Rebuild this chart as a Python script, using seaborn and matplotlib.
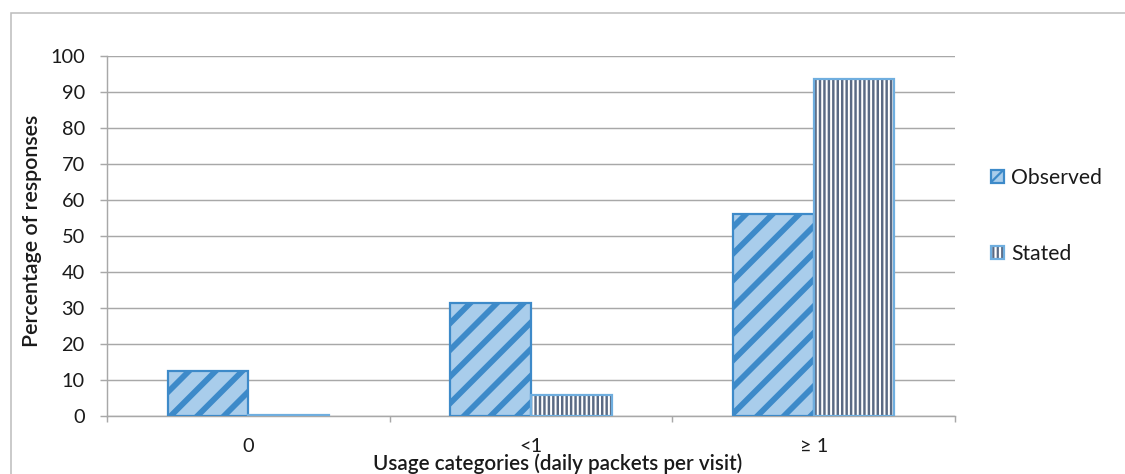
import matplotlib
matplotlib.use("Agg")
import matplotlib.pyplot as plt
import matplotlib.colors as mcolors
from matplotlib.patches import Rectangle
from matplotlib.ticker import FixedLocator, NullFormatter
import pandas as pd
import seaborn as sns

# ---- data ----
categories = ["0", "<1", "≥ 1"]
series = ["Observed", "Stated"]
observed = [12.5, 31.4, 56.1]
stated = [0.3, 5.8, 93.6]
yticks = list(range(0, 101, 10))

# ---- style ----
W, H, DPI = 1125, 474, 160
obs_face = "#A9CDEB"
obs_edge = "#3D8AC9"
st_hatch = "#5A6A84"
st_edge = "#6FAEDF"
grid_c = "#A8A8A8"
text_c = "#1A1A1A"
fs = 9.0

sns.set_theme(style="white")
plt.rcParams["font.family"] = ["Lato", "DejaVu Sans"]

df = pd.DataFrame({
    "category": categories * 2,
    "series": [series[0]] * len(categories) + [series[1]] * len(categories),
    "value": observed + stated,
})

fig = plt.figure(figsize=(W / DPI, H / DPI), dpi=DPI)
ax = fig.add_axes([107 / W, 1 - 416 / H, 848 / W, 360 / H])

sns.barplot(data=df, x="category", y="value", hue="series",
            order=categories, hue_order=series,
            palette=[obs_face, "white"], saturation=1, width=0.57,
            errorbar=None, legend=False, ax=ax, zorder=3)

for p in ax.containers[0]:
    p.set_facecolor(obs_face)
    p.set_edgecolor(obs_edge)
    p.set_linewidth(1.0)
    p.set_hatch("//")
    if hasattr(p, "set_hatch_linewidth"):
        p.set_hatch_linewidth(2.6)
for p in ax.containers[1]:
    p.set_facecolor("white")
    p.set_edgecolor(st_hatch)   # sets hatch colour
    p._edgecolor = mcolors.to_rgba(st_edge)  # outline colour
    p.set_linewidth(1.0)
    p.set_hatch("||||||")
    if hasattr(p, "set_hatch_linewidth"):
        p.set_hatch_linewidth(1.1)

ax.set_ylim(0, 100)
ax.set_xlim(-0.5, len(categories) - 0.5)
ax.set_yticks(yticks)
ax.yaxis.grid(True, color=grid_c, linewidth=0.65, zorder=0)
ax.xaxis.grid(False)
ax.set_axisbelow(True)

for s in ["top", "right"]:
    ax.spines[s].set_visible(False)
for s in ["left", "bottom"]:
    ax.spines[s].set_color(grid_c)
    ax.spines[s].set_linewidth(0.65)

ax.xaxis.set_minor_locator(FixedLocator([i - 0.5 for i in range(len(categories) + 1)]))
ax.xaxis.set_minor_formatter(NullFormatter())
ax.tick_params(axis="x", which="major", length=0, pad=10, labelsize=fs, labelcolor=text_c)
ax.tick_params(axis="x", which="minor", length=2.8, width=0.65, color=grid_c, bottom=True)
ax.tick_params(axis="y", which="major", length=3.0, width=0.65, color=grid_c, left=True,
               pad=7, labelsize=fs, labelcolor=text_c)

ax.set_xlabel("Usage categories (daily packets per visit)", fontsize=9.3,
              fontweight="semibold", color=text_c)
ax.set_ylabel("Percentage of responses", fontsize=9.6,
              fontweight="semibold", color=text_c)
ax.xaxis.set_label_coords((558 - 107) / 848, -0.105)
ax.yaxis.set_label_coords((42 - 107) / 848, 0.515)

leg = ax.legend(handles=[ax.containers[0], ax.containers[1]], labels=series,
                loc="center left", bbox_to_anchor=(991 / W, 1 - 216 / H),
                bbox_transform=fig.transFigure, frameon=False, fontsize=9.5,
                handlelength=0.6, handleheight=0.6, handletextpad=0.35,
                labelspacing=2.65, borderpad=0, borderaxespad=0)
for t in leg.get_texts():
    t.set_color(text_c)

# outer frame (cropped on right and bottom)
fig.add_artist(Rectangle((11 / W, -0.5), 2.0, 0.5 + 1 - 13 / H,
                         transform=fig.transFigure, fill=False,
                         edgecolor="#BDBDBD", linewidth=0.7, clip_on=False))

fig.savefig("out.png", dpi=DPI)
